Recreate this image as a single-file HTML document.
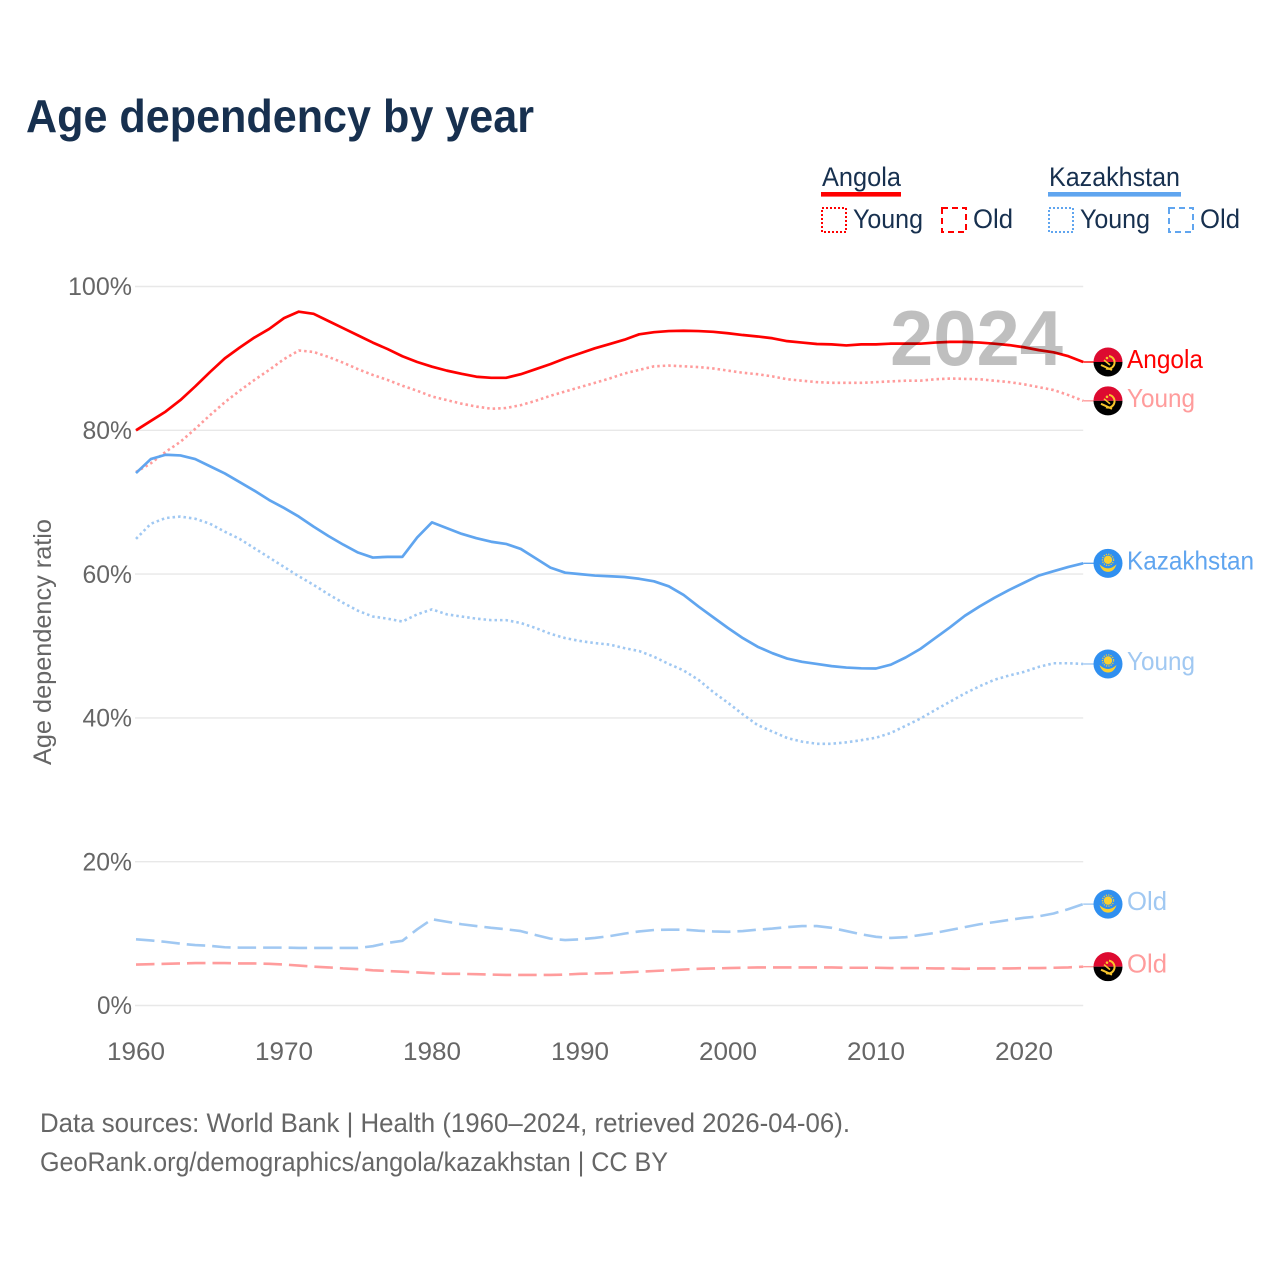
<!DOCTYPE html>
<html lang="en">
<head>
<meta charset="utf-8">
<title>Age dependency by year</title>
<style>
html,body{margin:0;padding:0;background:#fff;}
svg{display:block;font-family:"Liberation Sans",sans-serif;}
</style>
</head>
<body>
<svg id="chart" width="1280" height="1280" viewBox="0 0 1280 1280" xmlns="http://www.w3.org/2000/svg">
  <defs>
    <clipPath id="flag-clip"><circle cx="0" cy="0" r="14.5"/></clipPath>
    <g id="flag-angola">
      <g clip-path="url(#flag-clip)">
        <rect x="-15" y="-15" width="30" height="15" fill="#dd0a30"/>
        <rect x="-15" y="0" width="30" height="15" fill="#000"/>
      </g>
      <path d="M1,-6 A6.5,6.5 0 0 1 6,3 A6.5,6.5 0 0 1 -2,6.5" fill="none" stroke="#f8c52c" stroke-width="2"/>
      <path d="M-7,3 L4,8" fill="none" stroke="#f8c52c" stroke-width="2"/>
      <path d="M-4,-2 L2,3" fill="none" stroke="#f8c52c" stroke-width="1.6"/>
      <circle cx="-1" cy="-4" r="1.3" fill="#f8c52c"/>
    </g>
    <g id="flag-kazakhstan">
      <circle cx="0" cy="0" r="14.5" fill="#2f8ff0"/>
      <circle cx="0" cy="-3.5" r="4.2" fill="#fad02f"/>
      <circle cx="0" cy="-3.5" r="5.6" fill="none" stroke="#fad02f" stroke-width="1.2" stroke-dasharray="1.2 1.2"/>
      <path d="M-8.5,1 Q-4,5 0,5 Q4,5 8.5,1 Q6,8.5 0,8.5 Q-6,8.5 -8.5,1 Z" fill="#fad02f"/>
    </g>
  </defs>

  <rect x="0" y="0" width="1280" height="1280" fill="#ffffff"/>

  <text x="26" y="132" font-size="46" font-weight="700" fill="#17304f" textLength="508" lengthAdjust="spacingAndGlyphs">Age dependency by year</text>

  <g font-size="27" fill="#17304f">
    <text x="822" y="186" textLength="79" lengthAdjust="spacingAndGlyphs">Angola</text>
    <rect x="821" y="192" width="80" height="4.6" fill="#ff0000"/>
    <rect x="822" y="208" width="24" height="24" fill="none" stroke="#ff0000" stroke-width="2" stroke-dasharray="2 2"/>
    <text x="853" y="228" textLength="70" lengthAdjust="spacingAndGlyphs">Young</text>
    <rect x="942" y="208" width="24" height="24" fill="none" stroke="#ff0000" stroke-width="2" stroke-dasharray="6 4"/>
    <text x="973" y="228" textLength="40" lengthAdjust="spacingAndGlyphs">Old</text>

    <text x="1049" y="186" textLength="131" lengthAdjust="spacingAndGlyphs">Kazakhstan</text>
    <rect x="1048" y="192" width="133" height="4.6" fill="#60a5ef"/>
    <rect x="1049" y="208" width="24" height="24" fill="none" stroke="#60a5ef" stroke-width="2" stroke-dasharray="2 2"/>
    <text x="1080" y="228" textLength="70" lengthAdjust="spacingAndGlyphs">Young</text>
    <rect x="1169" y="208" width="24" height="24" fill="none" stroke="#60a5ef" stroke-width="2" stroke-dasharray="6 4"/>
    <text x="1200" y="228" textLength="40" lengthAdjust="spacingAndGlyphs">Old</text>
  </g>

  <g id="grid"></g>
  <g id="y-ticks" font-size="25" fill="#666666"></g>
  <g id="x-ticks" font-size="25" fill="#666666"></g>

  <text transform="translate(51,642) rotate(-90)" text-anchor="middle" font-size="25" fill="#666666" textLength="246" lengthAdjust="spacingAndGlyphs">Age dependency ratio</text>

  <g id="series"></g>

  <text x="890" y="365" font-size="78" font-weight="700" fill="#000000" fill-opacity="0.25" textLength="173" lengthAdjust="spacingAndGlyphs">2024</text>

  <g id="end-labels" font-size="26"></g>

  <g font-size="27" fill="#666666">
    <text x="40" y="1132" textLength="810" lengthAdjust="spacingAndGlyphs">Data sources: World Bank | Health (1960–2024, retrieved 2026-04-06).</text>
    <text x="40" y="1171" textLength="628" lengthAdjust="spacingAndGlyphs">GeoRank.org/demographics/angola/kazakhstan | CC BY</text>
  </g>
</svg>

<script>
const startYear = 1960;
const yTickValues = [0, 20, 40, 60, 80, 100];
const xTickValues = [1960, 1970, 1980, 1990, 2000, 2010, 2020];

const angolaTotal = [80.0,81.3,82.6,84.2,86.1,88.1,90.0,91.5,92.9,94.1,95.6,96.5,96.2,95.2,94.2,93.2,92.2,91.3,90.3,89.5,88.85,88.3,87.85,87.45,87.3,87.3,87.8,88.5,89.2,90.0,90.7,91.4,92.0,92.6,93.35,93.65,93.8,93.85,93.8,93.7,93.5,93.25,93.05,92.8,92.4,92.2,92.0,91.95,91.8,91.95,91.95,92.05,92.05,92.05,92.2,92.3,92.3,92.2,92.05,91.85,91.55,91.15,90.85,90.3,89.5];
const angolaYoung = [74.2,75.4,77.0,78.4,80.2,82.1,83.9,85.5,87.0,88.4,89.9,91.1,90.9,90.2,89.4,88.5,87.7,87.0,86.2,85.5,84.7,84.2,83.7,83.3,83.0,83.1,83.5,84.1,84.8,85.4,86.0,86.6,87.2,87.9,88.4,88.9,89.0,88.9,88.8,88.6,88.3,88.0,87.8,87.5,87.1,86.9,86.7,86.6,86.6,86.6,86.7,86.8,86.9,86.9,87.1,87.2,87.15,87.1,86.9,86.7,86.4,86.0,85.6,84.9,84.1];
const angolaOld = [5.7,5.75,5.8,5.85,5.9,5.9,5.9,5.85,5.85,5.8,5.7,5.55,5.4,5.3,5.15,5.05,4.9,4.8,4.7,4.6,4.5,4.4,4.4,4.35,4.3,4.25,4.25,4.25,4.25,4.3,4.4,4.45,4.5,4.6,4.7,4.8,4.9,5.0,5.1,5.15,5.2,5.25,5.3,5.3,5.3,5.3,5.3,5.3,5.25,5.25,5.25,5.2,5.2,5.2,5.15,5.15,5.1,5.15,5.15,5.15,5.2,5.2,5.25,5.3,5.4];
const kazakhstanTotal = [74.05,76.0,76.6,76.5,76.0,75.0,74.0,72.8,71.6,70.3,69.2,68.0,66.6,65.3,64.1,63.0,62.3,62.4,62.4,65.1,67.2,66.4,65.6,65.0,64.5,64.2,63.5,62.2,60.9,60.2,60.0,59.8,59.7,59.6,59.35,59.0,58.3,57.1,55.5,54.0,52.5,51.1,49.9,49.0,48.25,47.8,47.5,47.2,47.0,46.9,46.87,47.4,48.4,49.6,51.1,52.6,54.2,55.5,56.7,57.8,58.8,59.8,60.4,61.0,61.5];
const kazakhstanYoung = [64.9,67.0,67.8,68.0,67.7,67.0,65.9,64.9,63.6,62.3,61.0,59.7,58.5,57.2,56.0,54.9,54.1,53.8,53.4,54.4,55.1,54.4,54.1,53.8,53.6,53.6,53.2,52.5,51.7,51.1,50.7,50.4,50.2,49.7,49.3,48.5,47.5,46.6,45.3,43.6,42.1,40.5,39.0,38.1,37.2,36.7,36.4,36.4,36.6,36.9,37.25,37.9,38.9,39.9,41.1,42.25,43.4,44.4,45.3,45.9,46.4,47.1,47.6,47.6,47.5];
const kazakhstanOld = [9.2,9.05,8.85,8.6,8.4,8.3,8.1,8.05,8.05,8.05,8.05,8.0,8.0,8.0,8.0,8.0,8.25,8.7,9.0,10.6,12.0,11.65,11.3,11.05,10.8,10.6,10.35,9.8,9.3,9.1,9.2,9.4,9.65,10.0,10.3,10.5,10.55,10.55,10.4,10.3,10.25,10.35,10.55,10.7,10.9,11.05,11.05,10.8,10.35,9.9,9.55,9.4,9.5,9.8,10.1,10.5,10.9,11.3,11.6,11.9,12.2,12.4,12.8,13.4,14.1];

const NS = 'http://www.w3.org/2000/svg';
function xScale(year) { return 136 + (year - 1960) * 14.8; }
function yScale(pct) { return 1005.5 - pct * 7.19; }

const DOTTED = '2.5 3';
const DASHED = '18.5 7';

const seriesList = [
  { key: 'angola-old', values: angolaOld, color: '#ff9c9c', dash: DASHED, width: 2.6, flag: 'flag-angola', label: 'Old', labelWidth: 40 },
  { key: 'kazakhstan-old', values: kazakhstanOld, color: '#a0c8f2', dash: DASHED, width: 2.6, flag: 'flag-kazakhstan', label: 'Old', labelWidth: 40 },
  { key: 'kazakhstan-young', values: kazakhstanYoung, color: '#a0c8f2', dash: DOTTED, width: 2.6, flag: 'flag-kazakhstan', label: 'Young', labelWidth: 68 },
  { key: 'angola-young', values: angolaYoung, color: '#ff9c9c', dash: DOTTED, width: 2.6, flag: 'flag-angola', label: 'Young', labelWidth: 68 },
  { key: 'kazakhstan-total', values: kazakhstanTotal, color: '#60a5ef', dash: null, width: 2.7, flag: 'flag-kazakhstan', label: 'Kazakhstan', labelWidth: 127 },
  { key: 'angola-total', values: angolaTotal, color: '#ff0000', dash: null, width: 2.7, flag: 'flag-angola', label: 'Angola', labelWidth: 76 }
];

const gridGroup = document.getElementById('grid');
const yTickGroup = document.getElementById('y-ticks');
const xTickGroup = document.getElementById('x-ticks');
const seriesGroup = document.getElementById('series');
const labelGroup = document.getElementById('end-labels');
const lastYear = startYear + angolaTotal.length - 1;

yTickValues.forEach(function (v) {
  const line = document.createElementNS(NS, 'line');
  
  
  line.setAttribute('x1', xScale(startYear) - 1);
  line.setAttribute('x2', xScale(lastYear));
  line.setAttribute('y1', yScale(v));
  line.setAttribute('y2', yScale(v));
  line.setAttribute('stroke', '#e8e8e8');
  line.setAttribute('stroke-width', '1.4');
  gridGroup.appendChild(line);

  const label = String(v) + '%';
  const t = document.createElementNS(NS, 'text');
  
  
  t.setAttribute('x', 132);
  t.setAttribute('y', yScale(v) + 8.7);
  t.setAttribute('text-anchor', 'end');
  t.setAttribute('textLength', (label.length - 1) * 14.5 + 20.5);
  t.setAttribute('lengthAdjust', 'spacingAndGlyphs');
  t.textContent = label;
  yTickGroup.appendChild(t);
});

xTickValues.forEach(function (year) {
  const t = document.createElementNS(NS, 'text');
  
  
  t.setAttribute('x', xScale(year));
  t.setAttribute('y', 1060);
  t.setAttribute('text-anchor', 'middle');
  t.setAttribute('textLength', 58);
  t.setAttribute('lengthAdjust', 'spacingAndGlyphs');
  t.textContent = String(year);
  xTickGroup.appendChild(t);
});

seriesList.forEach(function (s) {
  const pts = s.values.map(function (v, i) {
    return xScale(startYear + i).toFixed(2) + ',' + yScale(v).toFixed(2);
  });
  const line = document.createElementNS(NS, 'polyline');
  
  
  line.setAttribute('points', pts.join(' '));
  line.setAttribute('fill', 'none');
  line.setAttribute('stroke', s.color);
  line.setAttribute('stroke-width', s.width);
  line.setAttribute('stroke-linejoin', 'round');
  if (s.dash) line.setAttribute('stroke-dasharray', s.dash);
  seriesGroup.appendChild(line);

  const endVal = s.values[s.values.length - 1];
  const endY = yScale(endVal);

  const leader = document.createElementNS(NS, 'line');
  
  
  leader.setAttribute('x1', xScale(lastYear));
  leader.setAttribute('x2', 1094);
  leader.setAttribute('y1', endY);
  leader.setAttribute('y2', endY);
  leader.setAttribute('stroke', s.color);
  leader.setAttribute('stroke-width', '1.4');
  seriesGroup.appendChild(leader);

  const flag = document.createElementNS(NS, 'use');
  
  
  flag.setAttribute('href', '#' + s.flag);
  flag.setAttribute('transform', 'translate(1108,' + endY.toFixed(2) + ')');
  labelGroup.appendChild(flag);

  const t = document.createElementNS(NS, 'text');
  
  
  t.setAttribute('x', 1127);
  t.setAttribute('y', endY + 6);
  t.setAttribute('fill', s.color);
  t.setAttribute('textLength', s.labelWidth);
  t.setAttribute('lengthAdjust', 'spacingAndGlyphs');
  t.textContent = s.label;
  labelGroup.appendChild(t);
});
</script>
</body>
</html>
